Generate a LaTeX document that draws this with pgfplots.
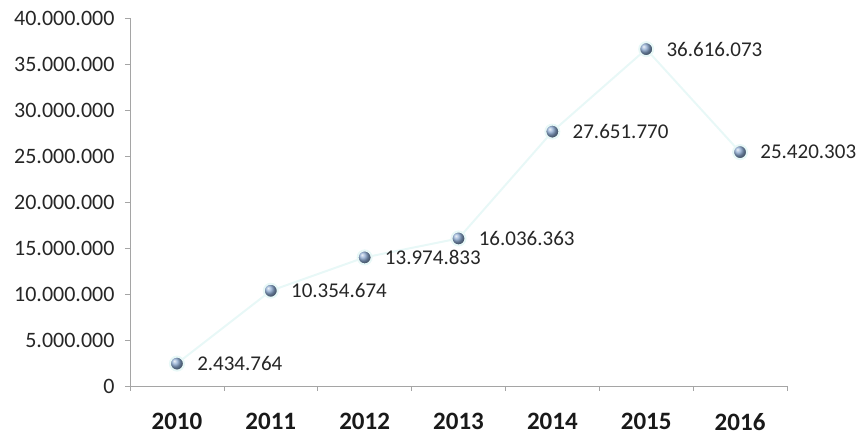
\documentclass[border=0pt]{standalone}
\usepackage{fontspec}
\setmainfont{Carlito}
\usepackage{pgfplots}
\pgfplotsset{compat=1.18}
\definecolor{axisgray}{RGB}{165,165,165}
\definecolor{linecol}{RGB}{232,248,247}
\definecolor{ballcol}{RGB}{135,165,205}
\begin{document}
\begin{tikzpicture}[x=1pt,y=1pt]
\useasboundingbox (-130,-53) rectangle (733,386);
\begin{axis}[
  at={(0,0)}, anchor=south west,
  scale only axis, width=657pt, height=368pt,
  xmin=-0.5, xmax=6.5, ymin=0, ymax=40000000,
  axis x line*=bottom, axis y line*=left,
  axis line style={axisgray, line width=0.6pt},
  xtick={0,1,2,3,4,5,6},
  xticklabels={2010,2011,2012,2013,2014,2015,2016},
  major x tick style={draw=none},
  minor xtick={-0.5,0.5,1.5,2.5,3.5,4.5,5.5,6.5},
  ytick={0,5000000,10000000,15000000,20000000,25000000,30000000,35000000,40000000},
  scaled y ticks=false,
  yticklabel={\pgfmathprintnumber[fixed,precision=0,1000 sep={.}]{\tick}},
  /pgf/number format/assume math mode=true,
  tick align=outside,
  tick style={axisgray, line width=0.6pt},
  major tick length=5pt, minor tick length=5pt,
  y tick label style={font=\fontsize{22}{26}\selectfont, text=black!85, xshift=-7pt},
  x tick label style={font=\fontsize{25}{30}\selectfont\bfseries, text=black!90, yshift=-19pt},
  clip=false,
  nodes near coords, point meta=explicit symbolic,
  nodes near coords style={anchor=west, xshift=16pt, font=\fontsize{21}{25}\selectfont, text=black!85},
]
\addplot[linecol, line width=2pt, mark=ball, mark size=7pt, mark options={ball color=ballcol}]
 coordinates {
 (0,2434764) [2.434.764]
 (1,10354674) [10.354.674]
 (2,13974833) [13.974.833]
 (3,16036363) [16.036.363]
 (4,27651770) [27.651.770]
 (5,36616073) [36.616.073]
 (6,25420303) [25.420.303]
 };
\end{axis}
\end{tikzpicture}
\end{document}
